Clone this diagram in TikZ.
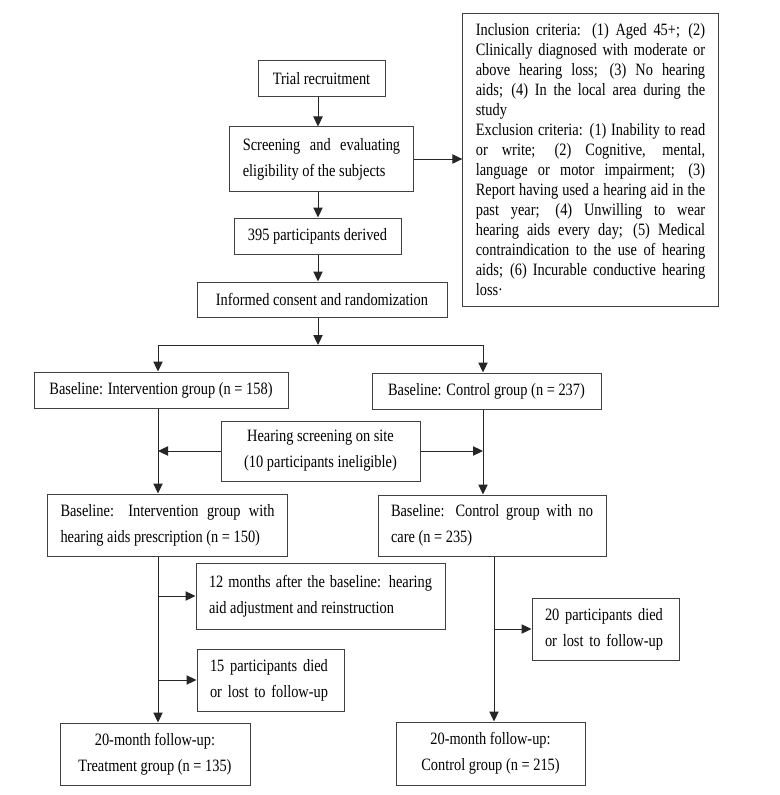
\documentclass[tikz,border=0pt]{standalone}
\usepackage{fontspec}
\setmainfont{Liberation Serif}[FakeStretch=0.83]
\usetikzlibrary{arrows.meta}
\newcommand{\flowfont}{\fontsize{13pt}{19.5pt}\selectfont}
\newcommand{\critfont}{\fontsize{13pt}{15pt}\selectfont}
\setlength{\parindent}{0pt}
\tolerance=10000 \hbadness=10000 \hyphenpenalty=10000

\begin{document}
\begin{tikzpicture}[x=0.75pt,y=-0.75pt,>={Triangle[length=7.5pt,width=7pt]},
 box/.style={draw=black!75,line width=0.75pt,inner xsep=9.75pt,inner ysep=2pt,
 align=center,font=\flowfont},
 link/.style={draw=black!85,line width=0.75pt}]
\useasboundingbox (0,0) rectangle (779,795);
\node[box,minimum width=95.25pt,minimum height=27pt] (trial) at (321.5,79) {Trial recruitment};
\node[box,align=justify,text width=118pt,minimum height=48pt] (screen) at (321.5,159)
 {Screening and evaluating\linebreak eligibility of the subjects};
\node[box,minimum width=125.25pt,minimum height=27pt] (derived) at (317.5,236) {395 participants derived};
\node[box,minimum width=187.5pt,minimum height=26.25pt] (consent) at (322,299.5) {Informed consent and randomization};
\node[box,align=justify,text width=172pt,minimum height=219pt,font=\critfont] (criteria) at (590.5,160)
 {Inclusion criteria: (1) Aged 45+; (2)\linebreak Clinically diagnosed with moderate or\linebreak
 above hearing loss; (3) No hearing\linebreak aids; (4) In the local area during the\linebreak study\\
 Exclusion criteria: (1) Inability to read\linebreak or write; (2) Cognitive, mental,\linebreak
 language or motor impairment; (3)\linebreak Report having used a hearing aid in the\linebreak
 past year; (4) Unwilling to wear\linebreak hearing aids every day; (5) Medical\linebreak
 contraindication to the use of hearing\linebreak aids; (6) Incurable conductive hearing\linebreak loss·};
\node[box,minimum width=190.5pt,minimum height=27pt] (intv) at (161,390) {Baseline: Intervention group (n = 158)};
\node[box,minimum width=171.75pt,minimum height=27pt] (ctrl) at (486.5,391) {Baseline: Control group (n = 237)};
\node[box,minimum width=149.25pt,minimum height=45pt] (hscreen) at (320.5,451)
 {Hearing screening on site\\(10 participants ineligible)};
\node[box,align=justify,text width=160.5pt,minimum height=46.5pt] (intvaid) at (167.5,525)
 {Baseline: Intervention group with\linebreak hearing aids prescription (n = 150)};
\node[box,align=justify,text width=151.5pt,minimum height=45.75pt] (ctrlno) at (492,525.5)
 {Baseline: Control group with no\linebreak care (n = 235)};
\node[box,align=justify,text width=167.25pt,minimum height=49.5pt] (adjust) at (320.5,596)
 {12 months after the baseline: hearing\linebreak aid adjustment and reinstruction};
\node[box,align=left,text width=90.75pt,minimum height=46.5pt] (lostA) at (270.5,680)
 {15 participants died\\or lost to follow-up};
\node[box,align=left,text width=90.75pt,minimum height=46.5pt] (lostB) at (605.5,629)
 {20 participants died\\or lost to follow-up};
\node[box,minimum width=142.5pt,minimum height=46.5pt] (treat) at (155,754)
 {20-month follow-up:\\Treatment group (n = 135)};
\node[box,minimum width=141.75pt,minimum height=47.25pt] (ctrlend) at (490.5,753.5)
 {20-month follow-up:\\Control group (n = 215)};
\coordinate (mx) at (318,0);
\coordinate (lx) at (158,0);
\coordinate (rx) at (483,0);
\coordinate (rx2) at (494,0);
\coordinate (split) at (318,345);
\draw[link,->] (trial.south -| mx) -- (screen.north -| mx);
\draw[link,->] (screen.east) -- (screen.east -| criteria.west);
\draw[link,->] (screen.south -| mx) -- (derived.north -| mx);
\draw[link,->] (derived.south -| mx) -- (consent.north -| mx);
\draw[link,->] (consent.south -| mx) -- (split);
\draw[link,->] (split) -| (intv.north -| lx);
\draw[link,->] (split) -| (ctrl.north -| rx);
\draw[link,->] (intv.south -| lx) -- (intvaid.north -| lx);
\draw[link,->] (ctrl.south -| rx) -- (ctrlno.north -| rx);
\draw[link,->] (hscreen.west) -- (hscreen.west -| lx);
\draw[link,->] (hscreen.east) -- (hscreen.east -| rx);
\draw[link,->] (intvaid.south -| lx) -- (treat.north -| lx);
\draw[link,->] (adjust.west -| lx) -- (adjust.west);
\draw[link,->] (lostA.west -| lx) -- (lostA.west);
\draw[link,->] (ctrlno.south -| rx2) -- (ctrlend.north -| rx2);
\draw[link,->] (lostB.west -| rx2) -- (lostB.west);
\end{tikzpicture}
\end{document}
